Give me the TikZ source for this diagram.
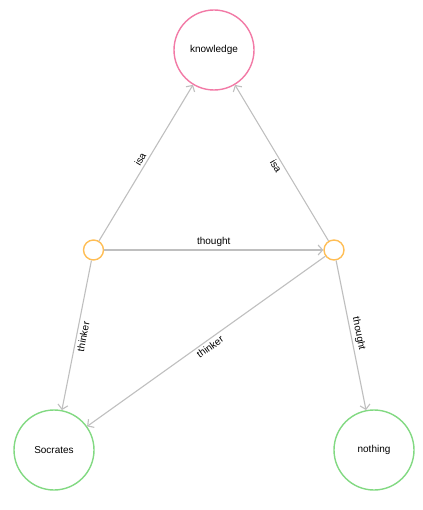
\documentclass[tikz,border=0pt]{standalone}
\usepackage{fontspec}
\setmainfont{Liberation Sans}
\usetikzlibrary{arrows.meta}
\definecolor{pinkc}{HTML}{F27AA6}
\definecolor{orangec}{HTML}{FFBE55}
\definecolor{greenc}{HTML}{82D982}
\definecolor{edgec}{HTML}{BFBFBF}
\begin{document}
\begin{tikzpicture}[x=1pt,y=-1pt,
  font=\fontsize{10}{12}\selectfont,
  big/.style={circle,draw,line width=1.4pt,minimum size=80pt,inner sep=0pt,fill=white},
  small/.style={circle,draw=orangec,line width=1.4pt,minimum size=20pt,inner sep=0pt,fill=white},
  rel/.style={draw=edgec,line width=1.1pt,-{Straight Barb[length=4.5pt,width=10pt,line width=1.1pt]}},
  lab/.style={midway,sloped,inner sep=2.5pt,text=black}]
\useasboundingbox (0,0) rectangle (422,510);
\node[big,draw=pinkc] (knowledge) at (214,50) {knowledge};
\node[big,draw=greenc] (socrates) at (54,450) {Socrates};
\node[big,draw=greenc] (nothing) at (374,450) {nothing};
\node[small] (s1) at (93.5,250) {};
\node[small] (s2) at (334,250) {};
\draw[rel] (s1) -- node[lab,above] {isa} (knowledge);
\draw[rel] (s2) -- node[lab,below] {isa} (knowledge);
\draw[rel] (s1) -- node[lab,above] {thought} (s2);
\draw[rel] (s1) -- node[lab,below] {thinker} (socrates);
\draw[rel] (s2) -- node[lab,below] {thinker} (socrates);
\draw[rel] (s2) -- node[lab,above] {thought} (nothing);
\end{tikzpicture}
\end{document}
